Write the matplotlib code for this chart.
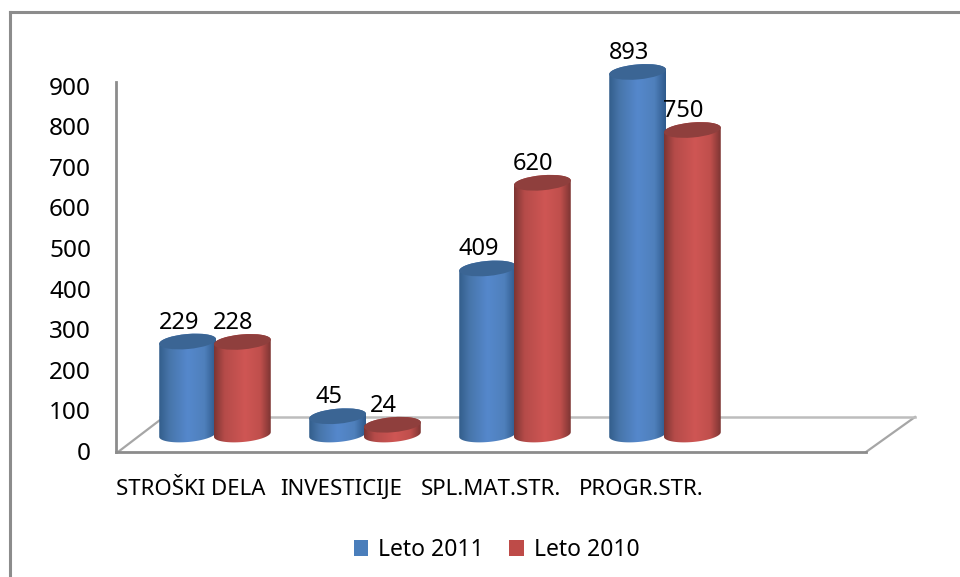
#!/usr/bin/python3
import numpy as np
import matplotlib
matplotlib.use('Agg')
import matplotlib.pyplot as plt
from matplotlib.colors import LinearSegmentedColormap
from matplotlib.patches import Ellipse, PathPatch, Patch
from matplotlib.path import Path
from matplotlib.lines import Line2D
from matplotlib.transforms import Affine2D

categories = ['STROŠKI DELA', 'INVESTICIJE', 'SPL.MAT.STR.', 'PROGR.STR.']
leto_2011 = [229, 45, 409, 893]
leto_2010 = [228, 24, 620, 750]
y_ticks = [0, 100, 200, 300, 400, 500, 600, 700, 800, 900]

W, H = 960, 577
FONT = 'Noto Sans'
GRAY = '#8c8c8c'
PX_PER_UNIT = 0.406

blue_cmap = LinearSegmentedColormap.from_list('b', [(0, '#335e8c'), (0.18, '#4775aa'), (0.5, '#5588cc'),
                                                    (0.8, '#4f80bc'), (1, '#2f5a8c')])
red_cmap = LinearSegmentedColormap.from_list('r', [(0, '#7d3533'), (0.18, '#b54b49'), (0.55, '#cf5654'),
                                                   (0.82, '#bf4f4c'), (1, '#7d3533')])


def rect_px(left, top, right, bottom):
    return [left / W, 1 - bottom / H, (right - left) / W, (bottom - top) / H]


def fig_line(fig, xs, ys, color=GRAY, lw=2.0):
    fig.add_artist(Line2D([x / W for x in xs], [1 - y / H for y in ys], color=color,
                          lw=lw, solid_capstyle='projecting', zorder=-1))


def cylinder(ax, x_center, value, cmap, top_color, z):
    half_w = 28.5
    half_h = 7.5
    x0, y0 = ax.transData.transform((x_center, 0))
    x1, y1 = ax.transData.transform((x_center, value))
    tilt = np.radians(5)

    def ring(tt, yc):
        ex = half_w * np.cos(tt)
        ey = half_h * np.sin(tt)
        return np.column_stack([x0 + ex * np.cos(tilt) - ey * np.sin(tilt),
                                yc + ex * np.sin(tilt) + ey * np.cos(tilt)])

    # the side of the cylinder, from the top half ring to the lower half ring
    t = np.linspace(0, np.pi, 40)
    verts = np.vstack([ring(t, y1), ring(t + np.pi, y0)])
    body = PathPatch(Path(np.vstack([verts, verts[:1]])), transform=Affine2D(), fc='none', ec='none')
    ax.add_patch(body)

    inv = ax.transData.inverted()
    (dl, db), (dr, dt) = inv.transform([(x0 - half_w, y0 - half_h - 3), (x0 + half_w, y1 + half_h + 3)])
    grad = np.linspace(0, 1, 128).reshape(1, -1)
    im = ax.imshow(grad, cmap=cmap, extent=[dl, dr, db, dt], aspect='auto', zorder=z)
    im.set_clip_path(body)

    lid = Ellipse((x1, y1), 2 * half_w, 2 * half_h, angle=5, transform=Affine2D(),
                  fc=top_color, ec='none', zorder=z + 1)
    ax.add_patch(lid)


fig = plt.figure(figsize=(W / 100, H / 100), dpi=100, facecolor='white')

# outer chart frame
fig_line(fig, [10, 10], [577, 12], lw=2.2)
fig_line(fig, [10, 960], [12, 12], lw=2.2)

# axis wall and the floor, the floor sides go back in depth
axis_ax = fig.add_axes(rect_px(116, 82, 866, 452), zorder=0)
axis_ax.set_xlim(-0.5, 4.5)
axis_ax.set_ylim(-2.5, 909)
axis_ax.patch.set_alpha(0)
for side in ['top', 'right']:
    axis_ax.spines[side].set_visible(False)
for side in ['left', 'bottom']:
    axis_ax.spines[side].set_color(GRAY)
    axis_ax.spines[side].set_linewidth(2.0)
axis_ax.set_yticks(y_ticks)
axis_ax.set_yticklabels([str(v) for v in y_ticks], fontname=FONT, fontsize=17.5)
axis_ax.set_xticks(range(len(categories)))
axis_ax.set_xticklabels(categories, fontname=FONT, fontsize=16)
axis_ax.tick_params(axis='both', length=0, labelcolor='black')
axis_ax.tick_params(axis='y', pad=18)
axis_ax.tick_params(axis='x', pad=19.5)

fig_line(fig, [118, 160], [452, 420], color='#a6a6a6', lw=1.6)
fig_line(fig, [866, 915], [452, 417], color='#a6a6a6', lw=1.6)
fig_line(fig, [160, 915], [417, 417], color='#bdbdbd', lw=1.8)

# bars sit further back than the axis wall so this has its own zero line
BAR_TOP, BAR_ZERO, BAR_BOTTOM = 40, 434.5, 470
bar_ax = fig.add_axes(rect_px(140, BAR_TOP, 890, BAR_BOTTOM), zorder=1)
bar_ax.axis('off')
bar_lims = (-(BAR_BOTTOM - BAR_ZERO) / PX_PER_UNIT, (BAR_ZERO - BAR_TOP) / PX_PER_UNIT)
bar_ax.set_xlim(-0.5, 4.5)
bar_ax.set_ylim(*bar_lims)

SHIFT = 0.1825
z = 5
for i, (a, b) in enumerate(zip(leto_2011, leto_2010)):
    cylinder(bar_ax, i - SHIFT, a, blue_cmap, '#3b6594', z)
    cylinder(bar_ax, i + SHIFT, b, red_cmap, '#8f3f3d', z + 2)
    z += 4
bar_ax.set_xlim(-0.5, 4.5)
bar_ax.set_ylim(*bar_lims)

for i, (a, b) in enumerate(zip(leto_2011, leto_2010)):
    for x, v in [(i - SHIFT, a), (i + SHIFT, b)]:
        bar_ax.annotate(str(v), (x, v), xytext=(-9, 19), textcoords='offset pixels',
                        ha='center', va='center', fontname=FONT, fontsize=17,
                        color='black', zorder=50, annotation_clip=False)

fig.legend(handles=[Patch(fc='#4a7ebb', label='Leto 2011'), Patch(fc='#be4b48', label='Leto 2010')],
           loc='center', bbox_to_anchor=(496.5 / W, 1 - 550 / H), ncol=2, frameon=False,
           prop={'family': FONT, 'size': 16.5}, handlelength=0.65, handleheight=0.75,
           handletextpad=0.43, columnspacing=1.1)

fig.savefig('out.png', dpi=100)
